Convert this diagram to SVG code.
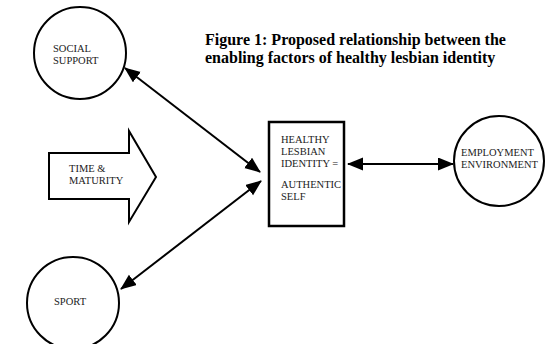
<svg xmlns="http://www.w3.org/2000/svg" width="549" height="344" viewBox="0 0 549 344">
<defs>
<marker id="ah" markerUnits="userSpaceOnUse" markerWidth="16" markerHeight="14" refX="15" refY="6.5" orient="auto-start-reverse">
<path d="M0,0 L16,6.5 L0,13 z" fill="#000"/>
</marker>
<style>
.shape{fill:#fff;stroke:#000;stroke-width:2}
.lbl{font-family:"Liberation Serif","Times New Roman",serif;font-size:10.5px;fill:#222}
.title{font-family:"Liberation Serif","Times New Roman",serif;font-size:16px;font-weight:bold;fill:#000}
.conn{stroke:#000;stroke-width:2;fill:none;marker-start:url(#ah);marker-end:url(#ah)}
</style>
</defs>
<rect width="549" height="344" fill="#fff"/>
<g id="title">
<text class="title" x="205" y="45">Figure 1: Proposed relationship between the</text>
<text class="title" x="205" y="63">enabling factors of healthy lesbian identity</text>
</g>
<g id="social-support">
<circle class="shape" cx="80" cy="53" r="46"/>
<text class="lbl" x="53" y="52">SOCIAL</text>
<text class="lbl" x="53" y="64">SUPPORT</text>
</g>
<g id="time-maturity">
<polygon class="shape" points="49,153 129,153 129,131 156,177 129,222 129,199 49,199"/>
<text class="lbl" x="69" y="172">TIME &amp;</text>
<text class="lbl" x="69" y="184">MATURITY</text>
</g>
<g id="sport">
<circle class="shape" cx="73" cy="303" r="46"/>
<text class="lbl" x="54" y="305">SPORT</text>
</g>
<g id="healthy-identity">
<rect class="shape" x="269" y="122" width="75" height="104" style="stroke-width:2.5"/>
<text class="lbl" x="281" y="143">HEALTHY</text>
<text class="lbl" x="281" y="155">LESBIAN</text>
<text class="lbl" x="281" y="167">IDENTITY  =</text>
<text class="lbl" x="281" y="188">AUTHENTIC</text>
<text class="lbl" x="281" y="200">SELF</text>
</g>
<g id="employment">
<circle class="shape" cx="499" cy="161" r="45"/>
<text class="lbl" x="461" y="156">EMPLOYMENT</text>
<text class="lbl" x="461" y="168">ENVIRONMENT</text>
</g>
<g id="connectors">
<line class="conn" x1="125" y1="68" x2="260" y2="172"/>
<line class="conn" x1="121" y1="289" x2="261" y2="181"/>
<line class="conn" x1="348" y1="164" x2="453" y2="164"/>
</g>
</svg>
